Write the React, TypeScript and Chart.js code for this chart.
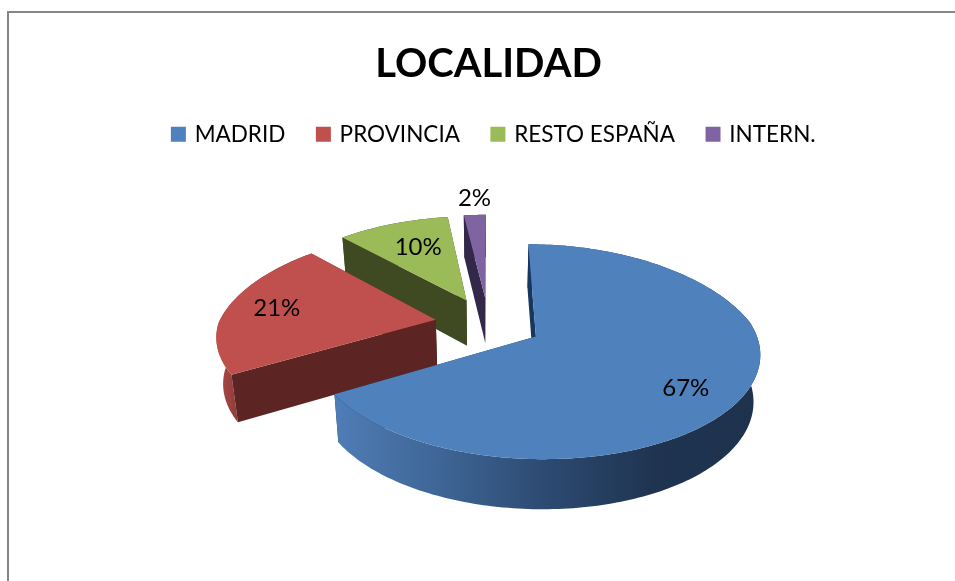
import React, { useEffect, useRef } from "react";
import { Chart, registerables } from "chart.js";

Chart.register(...registerables);

const categories = ["MADRID", "PROVINCIA", "RESTO ESPAÑA", "INTERN."];
const values = [66.5, 21.4, 10.1, 2.0];
const chartTitle = "LOCALIDAD";

const topColors = ["#4F81BD", "#C0504D", "#9BBB59", "#8064A2"];
const cutColors = ["#17375E", "#5C2422", "#3F4A22", "#33284A"];
const wallStops: string[][] = [
  ["#4F7DB6", "#3E6595", "#2C4A71", "#1F3450", "#1E324E"],
  ["#B04B48", "#8A3A38", "#6A2B29", "#5C2422", "#5C2422"],
  ["#4A5728", "#3F4A22", "#3F4A22", "#3F4A22", "#3F4A22"],
  ["#33284A", "#33284A", "#33284A", "#33284A", "#33284A"],
];

const FONT = "Lato, 'Open Sans', sans-serif";

// Projection of the flat pie onto the tilted 3D view
const KX = 1.445;
const KY = 0.676;
const PERSP = 0.14;
const PERSP_FAR_X = 0.19;
const OFFSET_SPREAD = 1.06;
const OFFSET_LIFT = 1.1;
const DEPTH_RATIO = 0.306;
const BASE_SHRINK = 0.975;
const LEGEND_SHIFT = 6;
const labelFrac = [0.76, 0.72, 0.68, 1.27];
const labelNudge = [[-7, 10], [-9, -2], [4, 1], [2, 3]];

function projector(el: any) {
  const R = el.outerRadius;
  const off = (el.options.offset || 0) / R;
  const mid = (el.startAngle + el.endAngle) / 2;
  const ox = Math.cos(mid) * off * OFFSET_SPREAD;
  const oy = Math.sin(mid) * off * OFFSET_LIFT;
  const rx = R * KX;
  const ry = R * KY;
  const place = (a: number, f: number, base: boolean) => {
    const dx = Math.cos(a) * f + ox;
    const dy = Math.sin(a) * f + oy;
    const s = 1 / (1 - PERSP * dy);
    const sxF = 1 / (1 - (dy < 0 ? PERSP_FAR_X : PERSP) * dy);
    const k = base ? BASE_SHRINK : 1;
    const depth = base ? R * DEPTH_RATIO * Math.sqrt(s) : 0;
    return {
      x: el.x + rx * dx * sxF * k,
      y: el.y + ry * dy * s + depth,
    };
  };
  return place;
}

const pie3d = {
  id: "pie3d",
  afterLayout(chart: any) {
    chart.legend.left += LEGEND_SHIFT;
    chart.legend.right += LEGEND_SHIFT;
  },
  beforeDraw(chart: any) {
    const { ctx } = chart;
    ctx.save();
    ctx.fillStyle = "#868686";
    ctx.fillRect(7, 11, 948, 2);
    ctx.fillRect(7, 11, 2, 570);
    ctx.restore();
  },
  beforeDatasetDraw() {
    return false;
  },
  afterDatasetsDraw(chart: any) {
    const { ctx } = chart;
    const arcs = chart.getDatasetMeta(0).data;
    const order = arcs.map((_: any, i: number) => i).reverse();
    const poly = (pts: { x: number; y: number }[], fill: any) => {
      ctx.beginPath();
      pts.forEach((p, i) => (i ? ctx.lineTo(p.x, p.y) : ctx.moveTo(p.x, p.y)));
      ctx.closePath();
      ctx.fillStyle = fill;
      ctx.fill();
    };
    ctx.save();
    for (const i of order) {
      const el = arcs[i];
      const place = projector(el);
      const a0 = el.startAngle;
      const a1 = el.endAngle;
      const n = Math.max(4, Math.ceil((a1 - a0) / 0.02));
      const topArc: any[] = [];
      const baseArc: any[] = [];
      for (let k = 0; k <= n; k++) {
        const a = a0 + ((a1 - a0) * k) / n;
        topArc.push(place(a, 1, false));
        baseArc.push(place(a, 1, true));
      }
      const apexT = place(a0, 0, false);
      const apexB = place(a0, 0, true);
      const midPt = topArc[Math.floor(n / 2)];
      // a cut face shows only when the slice's top lies above its edge
      const faces = (corner: { x: number; y: number }) => {
        const ex = corner.x - apexT.x;
        const ey = corner.y - apexT.y;
        if (Math.abs(ex) < 1e-3) return false;
        return midPt.y < apexT.y + (ey / ex) * (midPt.x - apexT.x);
      };
      const walls = [
        { pts: [apexT, topArc[0], baseArc[0], apexB], front: faces(topArc[0]) },
        { pts: [apexT, topArc[n], baseArc[n], apexB], front: faces(topArc[n]) },
      ];
      const xs = topArc.map((p) => p.x);
      const g = ctx.createLinearGradient(Math.min(...xs), 0, Math.max(...xs), 0);
      wallStops[i].forEach((c, j, l) => g.addColorStop(j / (l.length - 1), c));
      walls.filter((w) => !w.front).forEach((w) => poly(w.pts, cutColors[i]));
      poly([...topArc, ...baseArc.slice().reverse()], g);
      walls.filter((w) => w.front).forEach((w) => poly(w.pts, cutColors[i]));
      poly([apexT, ...topArc], topColors[i]);
    }
    // percentage labels
    const total = values.reduce((a, b) => a + b, 0);
    ctx.fillStyle = "#000";
    ctx.font = `24px ${FONT}`;
    ctx.textAlign = "center";
    ctx.textBaseline = "middle";
    arcs.forEach((el: any, i: number) => {
      const p = projector(el)((el.startAngle + el.endAngle) / 2, labelFrac[i], false);
      ctx.fillText(
        `${Math.round((values[i] / total) * 100)}%`,
        p.x + labelNudge[i][0],
        p.y + labelNudge[i][1]
      );
    });
    ctx.restore();
  },
};

export default function App() {
  const ref = useRef<HTMLCanvasElement>(null);
  useEffect(() => {
    document.body.style.margin = "0";
    const chart = new Chart(ref.current!, {
      type: "pie",
      data: {
        labels: categories,
        datasets: [
          {
            data: values,
            backgroundColor: topColors,
            borderWidth: 0,
            offset: 35,
          },
        ],
      },
      options: {
        responsive: false,
        animation: false,
        layout: { padding: { left: 22, right: 0, top: 0, bottom: 90 } },
        plugins: {
          tooltip: { enabled: false },
          title: {
            display: true,
            text: chartTitle,
            color: "#000",
            font: { family: FONT, size: 40, weight: "bold" },
            padding: { top: 40, bottom: 2 },
          },
          legend: {
            display: true,
            position: "top",
            labels: {
              color: "#000",
              font: { family: FONT, size: 22.5 },
              boxWidth: 10,
              boxHeight: 15,
              usePointStyle: true,
              pointStyle: "rect",
              padding: 33,
            },
          },
        },
      },
      plugins: [pie3d],
    } as any);
    return () => chart.destroy();
  }, []);
  return <canvas ref={ref} width={955} height={581} style={{ display: "block" }} />;
}
